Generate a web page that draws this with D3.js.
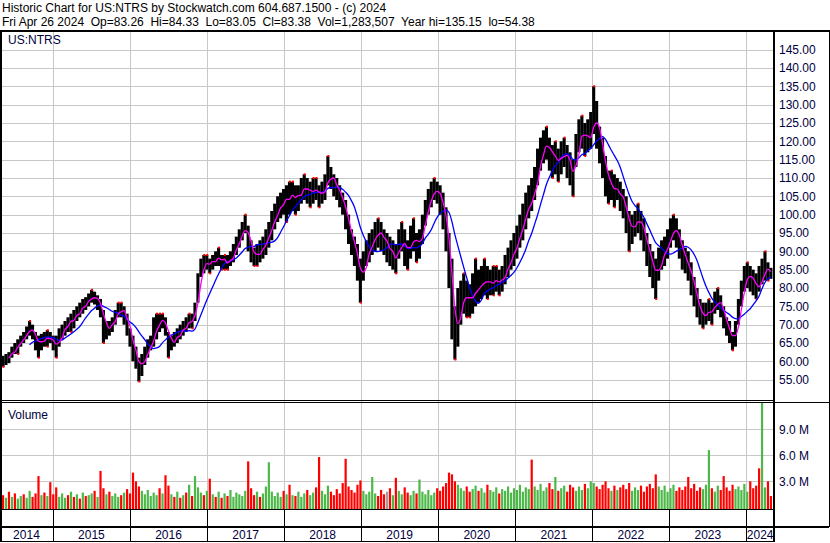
<!DOCTYPE html>
<html>
<head>
<meta charset="utf-8">
<script src="https://cdn.jsdelivr.net/npm/d3@7"></script>
<style>
  body { margin: 0; background: #fff; }
  svg { display: block; font-family: Arial, 'Liberation Sans', sans-serif; }
  text { white-space: pre; }
</style>
</head>
<body>
<div id="chart"></div>
<script>
// biweekly bars (ending Fri Apr 26 2024)
let lows = [
  58.5, 59, 59.5, 61, 62, 62, 64, 65, 66, 67,
  66, 63, 61, 63, 64, 64, 65, 63, 61, 64,
  66, 67, 68, 68, 69, 71, 72, 73, 74, 75,
  76, 75.5, 74, 72, 65, 66, 67, 68, 70, 72,
  72, 70, 67, 64, 60, 58, 54.5, 56, 59, 61,
  63, 64, 66, 68, 69, 67, 61, 63, 64, 65,
  66, 67, 68, 69, 69, 71, 76, 83, 84, 85,
  84, 85, 86, 86, 85, 85, 85, 86, 87, 89,
  91, 93, 95, 90, 87, 86, 86, 87, 88, 89,
  91, 93, 96, 98, 99, 100, 98, 100, 101, 100,
  101, 103, 104, 103, 102, 103, 104, 102, 103, 104,
  108, 107, 105, 104, 102, 100, 96, 92, 89, 86,
  82, 76, 82, 86, 87, 89, 90, 91, 90, 89,
  87, 86, 85, 84, 88, 90, 86, 85, 88, 90,
  87, 88, 92, 97, 100, 102, 104, 103, 100, 96,
  90, 80, 66, 60.5, 64, 70, 73, 72, 72, 73,
  75, 76, 77, 78, 77, 78, 78, 79, 78, 79,
  81, 83, 85, 86, 88, 91, 93, 96, 99, 101,
  104, 108, 112, 114, 115, 112, 110, 111, 109, 111,
  113, 110, 108, 105, 113, 117, 118, 116, 117, 118,
  122, 118, 114, 110, 105, 103, 104, 102, 104, 101,
  99, 95, 90, 92, 94, 95, 93, 90, 86, 83,
  80, 77, 82, 85, 86, 88, 91, 93, 91, 88,
  85, 84, 82, 78, 75, 72, 70, 69, 70, 71,
  70, 73, 74, 72, 69, 67, 65, 63, 64, 70,
  75, 79, 80, 79, 78, 77, 79, 81, 82, 82, 82.5
]
let highs = [
  61.5, 62, 62.5, 64, 65, 66, 67, 68, 69.5, 71,
  70, 68, 67, 67.5, 68, 68.5, 68, 67, 67, 69,
  70, 71, 72, 73, 74, 75, 76, 77, 77.5, 78.5,
  79.5, 79, 78, 77, 74, 71, 71, 72, 74, 76,
  76, 75, 73, 69, 67, 64, 61, 62, 64, 66,
  67, 72, 73, 73, 73, 72, 68, 67, 68, 69,
  70, 71, 72, 73, 73, 76, 84, 88, 89, 89,
  88, 89, 90, 91, 89, 89, 89, 90, 92, 94,
  96, 98, 100, 97, 93, 91, 92, 93, 94, 96,
  98, 101, 103, 105, 106, 107, 108, 109, 109, 108,
  108, 110, 111, 110, 109, 110, 110, 108, 109, 111,
  116, 113, 111, 110, 108, 106, 104, 100, 96, 94,
  92, 88, 90, 93, 95, 96, 98, 99, 98, 96,
  95, 94, 93, 92, 96, 98, 96, 93, 97, 99,
  95, 96, 100, 104, 107, 109, 110, 109, 108, 106,
  102, 95, 88, 75, 80, 82, 84, 82, 81, 84,
  88, 85, 86, 88, 86, 85, 86, 86, 85, 86,
  89, 91, 93, 95, 97, 100, 103, 106, 108, 110,
  113, 118, 121, 123, 124, 121, 119, 120, 118, 120,
  121, 119, 117, 115, 122, 126, 127, 125, 126, 128,
  135, 131, 124, 121, 116, 112, 112, 111, 110, 109,
  107, 105, 101, 100, 101, 103, 101, 99, 95, 92,
  90, 88, 91, 93, 94, 96, 99, 100, 99, 96,
  93, 91, 90, 87, 83, 80, 77, 76, 76, 77,
  76, 79, 80, 78, 75, 72, 71, 68, 71, 77,
  82, 86, 87, 86, 85, 84, 86, 88, 90, 87, 85.5
]
let closes = [
  60, 61.5, 61, 63.5, 63, 65, 66.5, 66, 68.5, 70,
  67, 65, 64.5, 66.5, 65.5, 67, 66, 64.5, 63.5, 67.5,
  68, 70.5, 70, 72, 71.5, 74, 73.5, 76, 75.5, 77.5,
  78, 76.5, 77, 74, 68, 70, 69, 71, 72.5, 75,
  73, 73.5, 69, 66.5, 62, 61, 57, 60, 62.5, 63,
  65.5, 68, 71, 70.5, 72, 69, 64, 66, 65.5, 68,
  67.5, 70, 69.5, 72, 71, 74.5, 82, 86.5, 86, 87.5,
  86, 88, 87.5, 89, 86.5, 88, 86, 88.5, 90, 92.5,
  93.5, 96.5, 97, 92, 89.5, 88, 90, 89.5, 92, 93.5,
  95.5, 98, 100.5, 101, 104, 103, 105.5, 104, 106.5, 103.5,
  105.5, 107, 108.5, 105.5, 106, 107.5, 106.5, 104.5, 106.5, 107.5,
  112, 109.5, 108.5, 106.5, 105, 102.5, 99, 95.5, 92, 90.5,
  86, 80, 87, 89.5, 91.5, 92.5, 95.5, 95, 94.5, 92,
  92, 88.5, 89.5, 86.5, 93, 93.5, 90, 89.5, 93.5, 94.5,
  91, 92.5, 97, 101.5, 103.5, 106, 107.5, 105.5, 104.5, 100,
  95, 86, 72, 66, 73, 76.5, 78.5, 77, 76.5, 78.5,
  80.5, 79.5, 81.5, 83, 80.5, 81.5, 82, 82.5, 80.5, 83.5,
  84.5, 87.5, 88.5, 91.5, 92.5, 96.5, 98.5, 101.5, 104.5, 103,
  109.5, 112.5, 117.5, 118.5, 120, 116.5, 115, 116.5, 113, 116.5,
  118, 114, 112.5, 109, 118.5, 121.5, 124, 119.5, 121, 122.5,
  128, 124.5, 118.5, 115.5, 110, 107.5, 108.5, 105.5, 107, 104.5,
  103, 99, 95, 96.5, 98.5, 99, 96.5, 94, 89.5, 87.5,
  85, 82, 87.5, 89, 90.5, 92, 95.5, 97, 94.5, 92,
  88.5, 87, 85, 82, 78.5, 75, 72, 72.5, 73, 74.5,
  73, 76.5, 77, 74.5, 71, 69, 67, 65, 69, 74,
  79, 83, 84.5, 82, 81.5, 80, 79.5, 85.5, 86, 84, 83.4
]
// volume in millions
let volumes = [
  1.4, 1.1, 1.8, 1.2, 1.6, 1.0, 1.3, 1.5, 1.1, 1.9,
  1.2, 1.6, 3.6, 1.4, 1.7, 1.3, 2.9, 1.5, 2.3, 1.2,
  1.6, 1.1, 1.4, 1.8, 1.2, 1.5, 1.0, 1.7, 1.3, 1.4,
  1.6, 1.9, 1.2, 4.2, 2.2, 1.5, 1.8, 1.3, 1.6, 1.2,
  1.4, 1.7, 2.1, 1.6, 4.0, 3.0, 2.4, 1.9, 1.5, 2.0,
  1.3, 1.7, 1.4, 2.2, 1.6, 3.7, 2.5, 1.5, 1.2, 1.8,
  1.1, 1.4, 1.7, 2.6, 1.3, 3.6, 2.3, 1.7, 1.4, 1.9,
  3.3, 1.5, 1.2, 1.8, 1.1, 1.6, 1.3, 2.0, 1.2, 1.7,
  1.5, 1.3, 1.9, 5.3, 2.2, 1.4, 1.8, 1.2, 1.6, 2.4,
  5.2, 1.8, 1.3, 1.7, 1.2, 1.9, 1.5, 2.6, 1.4, 1.3,
  1.8, 1.2, 1.6, 2.0, 1.4, 1.7, 2.3, 5.8, 1.9, 1.5,
  2.5, 1.8, 1.4, 2.1, 1.6, 2.8, 5.6, 2.4, 2.0, 1.7,
  2.6, 3.1, 1.9, 1.5, 1.8, 3.5, 1.6, 1.3, 2.0, 1.5,
  1.8, 2.2, 1.4, 3.4, 1.9, 1.5, 2.3, 1.7, 1.4, 1.9,
  1.6, 3.2, 1.8, 1.5, 2.0, 1.4, 1.7, 2.2, 1.9, 2.4,
  2.8, 4.0, 3.8, 3.0, 2.6, 2.2, 1.9, 2.4, 1.8, 2.1,
  2.5, 1.9, 2.2, 1.7, 2.6, 2.0, 1.8, 2.3, 1.6, 2.1,
  1.9, 2.4, 1.7, 2.2, 2.0, 2.6, 1.8, 2.3, 2.1, 5.5,
  2.4, 2.0, 2.7, 1.9, 2.3, 2.8, 2.1, 3.5, 1.9, 2.2,
  2.5, 1.8, 2.6, 2.3, 1.9, 2.4, 2.0, 2.7, 2.2, 3.0,
  2.8, 2.4, 2.1, 2.6, 3.0, 2.2, 1.9, 2.5, 2.0, 2.3,
  2.6, 2.1, 2.8, 1.9, 2.3, 2.0, 2.5, 1.8, 2.4, 2.7,
  2.2, 3.8, 2.4, 2.0, 2.5, 1.8, 2.2, 2.6, 1.9, 2.3,
  2.0, 2.4, 3.5, 2.2, 2.7, 1.9, 2.3, 2.1, 2.6, 6.6,
  2.2, 1.8, 2.5, 2.0, 3.6, 2.3, 1.9, 2.6, 2.1, 2.4,
  2.0, 2.7, 1.8, 3.0, 2.2, 2.5, 4.5, 12.5, 2.3, 3.0, 1.3
]
let priceTicks = [55, 60, 65, 70, 75, 80, 85, 90, 95, 100, 105, 110, 115, 120, 125, 130, 135, 140, 145]
let volTicks = [3, 6, 9]
let years = [2014, 2015, 2016, 2017, 2018, 2019, 2020, 2021, 2022, 2023, 2024]

let title = 'Historic Chart for US:NTRS by Stockwatch.com 604.687.1500 - (c) 2024'
let subtitle = 'Fri Apr 26 2024  Op=83.26  Hi=84.33  Lo=83.05  Cl=83.38  Vol=1,283,507  Year hi=135.15  lo=54.38'

let width = 830
let height = 543
let plotRight = 774
let priceTop = 32
let priceBottom = 400
let volTop = 403
let volBottom = 509

let svg = d3
  .select('#chart')
  .append('svg')
  .attr('width', width)
  .attr('height', height)

let endDate = new Date(2024, 3, 26)
let dates = closes.map((d, i) => d3.timeDay.offset(endDate, -14 * (closes.length - 1 - i)))

let x = d3
  .scaleTime()
  .domain([new Date(2014, 3, 25), new Date(2024, 4, 11)])
  .range([0, plotRight])
let y = d3.scaleLinear().domain([50, 150]).range([398, 31.3])
let yVol = d3.scaleLinear().domain([0, 12]).range([507.3, 403.3])

let yearStarts = years.slice(1).map(yr => new Date(yr, 0, 1))

// clip paths
let defs = svg.append('defs')
defs
  .append('clipPath')
  .attr('id', 'clip-price')
  .append('rect')
  .attr('x', 2)
  .attr('y', priceTop)
  .attr('width', plotRight - 3)
  .attr('height', priceBottom - priceTop)
defs
  .append('clipPath')
  .attr('id', 'clip-vol')
  .append('rect')
  .attr('x', 2)
  .attr('y', volTop)
  .attr('width', plotRight - 3)
  .attr('height', volBottom - volTop)

// gridlines
let grid = svg
  .append('g')
  .attr('stroke', '#c8c8c8')
  .attr('stroke-width', 1)
  .attr('shape-rendering', 'crispEdges')

grid
  .selectAll('.hgrid')
  .data(priceTicks)
  .enter()
  .append('line')
  .attr('x1', 0)
  .attr('x2', plotRight)
  .attr('y1', d => Math.round(y(d)) + 0.5)
  .attr('y2', d => Math.round(y(d)) + 0.5)

grid
  .selectAll('.vgrid')
  .data(yearStarts)
  .enter()
  .append('line')
  .attr('x1', d => Math.round(x(d)) + 0.5)
  .attr('x2', d => Math.round(x(d)) + 0.5)
  .attr('y1', priceTop)
  .attr('y2', volBottom)

grid
  .selectAll('.vol-grid')
  .data(volTicks)
  .enter()
  .append('line')
  .attr('x1', 0)
  .attr('x2', plotRight)
  .attr('y1', d => Math.round(yVol(d)) + 0.5)
  .attr('y2', d => Math.round(yVol(d)) + 0.5)

// price bars
let price = svg.append('g').attr('clip-path', 'url(#clip-price)')

price
  .selectAll('.bar')
  .data(dates)
  .enter()
  .append('rect')
  .attr('class', 'bar')
  .attr('x', d => x(d) - 1.5)
  .attr('width', 3.1)
  .attr('y', (d, i) => y(highs[i]))
  .attr('height', (d, i) => y(lows[i]) - y(highs[i]))
  .attr('fill', 'black')

// red marks on local peaks and troughs
let tips = []
dates.forEach((d, i) => {
  let prevH = i > 0 ? highs[i - 1] : -Infinity
  let nextH = i < highs.length - 1 ? highs[i + 1] : -Infinity
  let prevL = i > 0 ? lows[i - 1] : Infinity
  let nextL = i < lows.length - 1 ? lows[i + 1] : Infinity
  if (highs[i] >= prevH && highs[i] >= nextH) tips.push({ d: d, v: highs[i] })
  if (lows[i] <= prevL && lows[i] <= nextL) tips.push({ d: d, v: lows[i] })
})

price
  .selectAll('.tip')
  .data(tips)
  .enter()
  .append('rect')
  .attr('x', t => x(t.d) - 0.5)
  .attr('y', t => y(t.v) - 1)
  .attr('width', 2)
  .attr('height', 2)
  .attr('fill', 'red')

// moving averages of the closes
function sma(values, n) {
  return values.map((v, i) => (i < n - 1 ? null : d3.mean(values.slice(i - n + 1, i + 1))))
}
let fast = sma(closes, 3)
let slow = sma(closes, 10)

let maLine = d3
  .line()
  .defined(d => d[1] !== null)
  .x(d => x(d[0]))
  .y(d => y(d[1]))
  .curve(d3.curveMonotoneX)

price
  .append('path')
  .datum(dates.map((d, i) => [d, slow[i]]))
  .attr('d', maLine)
  .attr('fill', 'none')
  .attr('stroke', '#0000ff')
  .attr('stroke-width', 1.3)

price
  .append('path')
  .datum(dates.map((d, i) => [d, fast[i]]))
  .attr('d', maLine)
  .attr('fill', 'none')
  .attr('stroke', '#ff00ff')
  .attr('stroke-width', 1.3)

// volume bars, green when the close rose
svg
  .append('g')
  .attr('clip-path', 'url(#clip-vol)')
  .selectAll('.vol')
  .data(dates)
  .enter()
  .append('rect')
  .attr('x', d => x(d) - 1)
  .attr('width', 2.2)
  .attr('y', (d, i) => yVol(volumes[i]))
  .attr('height', (d, i) => yVol(0) - yVol(volumes[i]) + 2)
  .attr('fill', (d, i) => {
    if (i === 0) return '#ff0000'
    if (closes[i] > closes[i - 1]) return '#4cb848'
    if (closes[i] < closes[i - 1]) return '#ff0000'
    return '#a0a0a0'
  })

// frame lines
let frame = svg.append('g').attr('stroke', 'black').attr('shape-rendering', 'crispEdges')
let segs = [
  [0, 31, width, 31, 2],
  [1, 31, 1, 542, 2],
  [plotRight, 31, plotRight, 542, 2],
  [829, 31, 829, 527, 1],
  [0, 400.5, plotRight, 400.5, 1],
  [0, 402.5, 829, 402.5, 1],
  [0, 509.5, plotRight, 509.5, 1],
  [0, 526.5, 829, 526.5, 2],
  [0, 541.5, plotRight, 541.5, 1]
]
frame
  .selectAll('line')
  .data(segs)
  .enter()
  .append('line')
  .attr('x1', s => s[0])
  .attr('y1', s => s[1])
  .attr('x2', s => s[2])
  .attr('y2', s => s[3])
  .attr('stroke-width', s => s[4])

// year dividers in the two bottom rows
frame
  .selectAll('.ydiv')
  .data(yearStarts)
  .enter()
  .append('line')
  .attr('x1', d => Math.round(x(d)) + 0.5)
  .attr('x2', d => Math.round(x(d)) + 0.5)
  .attr('y1', 509.5)
  .attr('y2', 541.5)
  .attr('stroke-width', 1)

// year labels centred in each segment
let bounds = [0].concat(yearStarts.map(d => x(d)), [plotRight])
svg
  .selectAll('.year')
  .data(years)
  .enter()
  .append('text')
  .attr('x', (d, i) => (bounds[i] + bounds[i + 1]) / 2)
  .attr('y', 539)
  .attr('text-anchor', 'middle')
  .attr('font-size', 12)
  .attr('fill', '#000040')
  .text(d => d)

// right axes
svg
  .append('g')
  .attr('transform', 'translate(' + plotRight + ',0)')
  .call(
    d3.axisRight(y)
      .tickValues(priceTicks)
      .tickSize(0)
      .tickPadding(5)
      .tickFormat(d3.format('.2f'))
  )
  .call(g => g.select('.domain').remove())
  .selectAll('text')
  .attr('font-size', 12)
  .attr('font-family', 'Arial, Liberation Sans, sans-serif')
  .attr('fill', '#000040')

svg
  .append('g')
  .attr('transform', 'translate(' + plotRight + ',0)')
  .call(
    d3.axisRight(yVol)
      .tickValues(volTicks)
      .tickSize(0)
      .tickPadding(5)
      .tickFormat(d => d3.format('.1f')(d) + ' M')
  )
  .call(g => g.select('.domain').remove())
  .selectAll('text')
  .attr('font-size', 12)
  .attr('font-family', 'Arial, Liberation Sans, sans-serif')
  .attr('fill', '#000040')

// header and panel labels
svg.append('text').attr('x', 2).attr('y', 12).attr('font-size', 12).text(title)
svg.append('text').attr('x', 2).attr('y', 26).attr('font-size', 12).text(subtitle)
svg.append('text').attr('x', 8).attr('y', 44).attr('font-size', 12).attr('fill', '#000040').text('US:NTRS')
svg.append('text').attr('x', 8).attr('y', 419).attr('font-size', 12).attr('fill', '#000040').text('Volume')
</script>
</body>
</html>
